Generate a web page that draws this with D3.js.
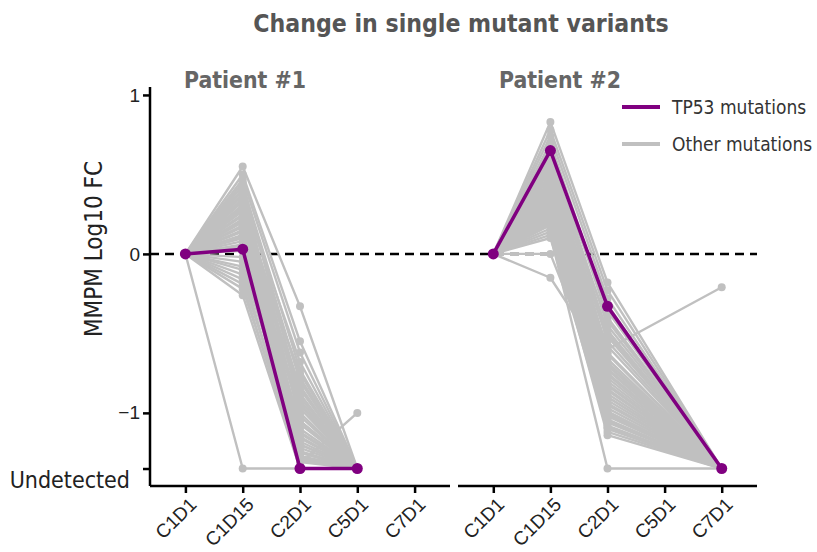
<!DOCTYPE html>
<html>
<head>
<meta charset="utf-8">
<script src="https://cdn.jsdelivr.net/npm/d3@7"></script>
<style>
  html, body { margin: 0; padding: 0; background: #fff; }
  svg { display: block; }
</style>
</head>
<body>
<svg id="chart" width="817" height="552"></svg>
<script>
// Sampling time points (cycle / day)
const stages = ["C1D1", "C1D15", "C2D1", "C5D1", "C7D1"];
const patients = ["Patient #1", "Patient #2"];

// Level used for variants that fell below detection
const U = -1.35;
const yTickValues = [1, 0, -1, U];

// Log10 fold change of mutant molecules per mL plasma, one row per variant.
// Columns follow `stages`; null = not sampled.
const p1TP53 = [0, 0.03, U, U, null];
const p1Other = [
  [0, 0.55, -0.33, U, null],
  [0, 0.50, -0.55, U, null],
  [0, 0.47, -0.62, U, null],
  [0, 0.45, -0.90, U, null],
  [0, 0.43, -0.73, U, null],
  [0, 0.41, -1.05, U, null],
  [0, 0.40, -0.80, U, null],
  [0, 0.38, -1.15, U, null],
  [0, 0.37, -0.95, U, null],
  [0, 0.35, -0.68, U, null],
  [0, 0.34, -1.20, U, null],
  [0, 0.33, -0.85, U, null],
  [0, 0.31, -1.00, U, null],
  [0, 0.30, -1.25, U, null],
  [0, 0.29, -0.78, U, null],
  [0, 0.28, -1.10, U, null],
  [0, 0.27, -0.92, U, null],
  [0, 0.25, -1.30, U, null],
  [0, 0.24, -0.88, U, null],
  [0, 0.22, -1.18, U, null],
  [0, 0.21, -1.02, U, null],
  [0, 0.20, -0.75, U, null],
  [0, 0.18, -1.22, U, null],
  [0, 0.17, -0.97, U, null],
  [0, 0.15, -1.12, U, null],
  [0, 0.14, -1.28, U, null],
  [0, 0.12, -0.83, U, null],
  [0, 0.11, -1.07, U, null],
  [0, 0.10, -1.32, -1.00, null],
  [0, 0.08, -1.16, U, null],
  [0, 0.06, -0.94, U, null],
  [0, 0.05, -1.24, U, null],
  [0, 0.03, -1.05, U, null],
  [0, 0.02, -1.30, U, null],
  [0, -0.02, -1.13, U, null],
  [0, -0.05, -1.27, U, null],
  [0, -0.08, -1.20, U, null],
  [0, -0.10, U, U, null],
  [0, -0.13, -1.31, U, null],
  [0, -0.16, -1.25, U, null],
  [0, -0.19, U, U, null],
  [0, -0.22, -1.29, U, null],
  [0, -0.26, U, U, null],
  [0, U, U, U, null]
];

const p2TP53 = [0, 0.65, -0.33, null, U];
const p2Other = [
  [0, 0.83, -0.18, null, U],
  [0, 0.78, -0.23, null, U],
  [0, 0.74, -0.28, null, U],
  [0, 0.70, -0.36, null, U],
  [0, 0.68, -0.40, null, U],
  [0, 0.62, -0.45, null, U],
  [0, 0.60, -0.50, null, U],
  [0, 0.58, -0.55, null, U],
  [0, 0.55, -0.60, null, -0.21],
  [0, 0.53, -0.63, null, U],
  [0, 0.51, -0.66, null, U],
  [0, 0.49, -0.70, null, U],
  [0, 0.47, -0.72, null, U],
  [0, 0.45, -0.75, null, U],
  [0, 0.43, -0.78, null, U],
  [0, 0.42, -0.80, null, U],
  [0, 0.40, -0.83, null, U],
  [0, 0.38, -0.85, null, U],
  [0, 0.37, -0.88, null, U],
  [0, 0.35, -0.90, null, U],
  [0, 0.34, -0.92, null, U],
  [0, 0.32, -0.95, null, U],
  [0, 0.30, -0.97, null, U],
  [0, 0.29, -1.00, null, U],
  [0, 0.27, -1.02, null, U],
  [0, 0.26, -1.04, null, U],
  [0, 0.24, -1.06, null, U],
  [0, 0.22, -1.08, null, U],
  [0, 0.20, -1.10, null, U],
  [0, 0.18, -1.12, null, U],
  [0, 0.16, -1.14, null, U],
  [0, 0.50, -0.42, null, U],
  [0, 0.44, -0.52, null, U],
  [0, 0.39, -0.68, null, U],
  [0, 0.33, -0.58, null, U],
  [0, 0.28, -0.76, null, U],
  [0, 0.23, -0.86, null, U],
  [0, 0.19, -0.99, null, U],
  [0, 0.14, -1.05, null, U],
  [0, 0.12, U, null, U],
  [0, 0.57, -0.32, null, U],
  [0, 0.46, -0.48, null, U],
  [0, 0.41, -0.62, null, U],
  [0, 0.36, -0.73, null, U],
  [0, 0.31, -0.82, null, U],
  [0, 0.25, -0.94, null, U],
  [0, 0.21, -1.01, null, U],
  [0, 0.10, -1.09, null, U],
  [0, 0.00, -0.90, null, U],
  [0, -0.15, -0.70, null, U]
];

const tp53Color = "#800080";
const otherColor = "#c0c0c0";
const textFont = "'DejaVu Sans Condensed', 'DejaVu Sans', sans-serif";
const tickFont = "'Liberation Sans', Arial, sans-serif";

const svg = d3.select("#chart");

// Shared vertical scale
const y = d3.scaleLinear().domain([-1.46, 1.05]).range([486, 87]);

// One point scale per patient panel
const panelRanges = [[150, 450], [458, 757]];
const xs = panelRanges.map(r => d3.scalePoint().domain(stages).range(r).padding(0.618));

// Title
svg.append("text")
  .attr("x", 461).attr("y", 32)
  .attr("text-anchor", "middle")
  .attr("font-family", textFont)
  .attr("font-weight", "bold")
  .attr("font-size", 24.6)
  .attr("fill", "#555")
  .text("Change in single mutant variants");

// Panel headings
[[245, patients[0]], [560, patients[1]]].forEach(([cx, label]) => {
  svg.append("text")
    .attr("x", cx).attr("y", 88)
    .attr("text-anchor", "middle")
    .attr("font-family", textFont)
    .attr("font-weight", "bold")
    .attr("font-size", 22.8)
    .attr("fill", "#666")
    .text(label);
});

// Y axis title
svg.append("text")
  .attr("transform", "translate(102,249) rotate(-90)")
  .attr("text-anchor", "middle")
  .attr("font-family", textFont)
  .attr("font-size", 24)
  .attr("fill", "#222")
  .text("MMPM Log10 FC");

// Zero reference line across both panels
svg.append("line")
  .attr("x1", 150).attr("x2", 757)
  .attr("y1", y(0)).attr("y2", y(0))
  .attr("stroke", "#000")
  .attr("stroke-width", 2.5)
  .attr("stroke-dasharray", "9,6");

const panels = [
  { x: xs[0], tp53: p1TP53, other: p1Other },
  { x: xs[1], tp53: p2TP53, other: p2Other }
];

function pts(row, x) {
  return row.map((v, i) => ({ s: stages[i], v })).filter(d => d.v !== null)
    .map(d => [x(d.s), y(d.v)]);
}

panels.forEach(p => {
  const g = svg.append("g");
  const line = d3.line();
  // Other variants underneath
  p.other.forEach(row => {
    const P = pts(row, p.x);
    g.append("path").attr("d", line(P))
      .attr("fill", "none").attr("stroke", otherColor).attr("stroke-width", 2.4)
      .attr("stroke-linejoin", "round");
  });
  p.other.forEach(row => {
    pts(row, p.x).forEach(([cx, cy]) => {
      g.append("circle").attr("cx", cx).attr("cy", cy).attr("r", 4).attr("fill", otherColor);
    });
  });
  // TP53 variant on top
  const T = pts(p.tp53, p.x);
  g.append("path").attr("d", line(T))
    .attr("fill", "none").attr("stroke", tp53Color).attr("stroke-width", 3.5)
    .attr("stroke-linejoin", "round");
  T.forEach(([cx, cy]) => {
    g.append("circle").attr("cx", cx).attr("cy", cy).attr("r", 5.5).attr("fill", tp53Color);
  });
});

// Y axis
const yAxis = d3.axisLeft(y).tickValues(yTickValues).tickSize(7).tickPadding(3)
  .tickFormat(d => d === U ? "" : d3.format("d")(d));
const yg = svg.append("g").attr("transform", "translate(150,0)").call(yAxis);
yg.select(".domain").attr("d", `M0,${y.range()[1]}V${y.range()[0]}`);
yg.selectAll("path, line").attr("stroke", "#000").attr("stroke-width", 2.5);
yg.selectAll("text")
  .attr("font-family", tickFont)
  .attr("font-size", 19).attr("fill", "#222");

svg.append("text")
  .attr("x", 130).attr("y", 488)
  .attr("text-anchor", "end")
  .attr("font-family", textFont)
  .attr("font-size", 23)
  .attr("fill", "#222")
  .text("Undetected");

// X axes, one per panel
xs.forEach((x, i) => {
  const ax = d3.axisBottom(x).tickSize(7).tickSizeOuter(0).tickPadding(4);
  const g = svg.append("g").attr("transform", "translate(0,486)").call(ax);
  g.select(".domain").attr("d", `M${panelRanges[i][0]},0H${panelRanges[i][1]}`);
  g.selectAll("path, line").attr("stroke", "#000").attr("stroke-width", 2.5);
  g.selectAll("text")
    .attr("font-family", tickFont)
    .attr("font-size", 19).attr("fill", "#222")
    .attr("text-anchor", "end")
    .attr("dy", "0.35em")
    .attr("transform", "translate(7,15) rotate(-45)")
    .attr("y", 0);
});

// Legend
const legend = [
  { label: "TP53 mutations", color: tp53Color, yy: 107 },
  { label: "Other mutations", color: otherColor, yy: 144 }
];
legend.forEach(l => {
  svg.append("line")
    .attr("x1", 622).attr("x2", 660).attr("y1", l.yy).attr("y2", l.yy)
    .attr("stroke", l.color).attr("stroke-width", 4);
  svg.append("text")
    .attr("x", 672).attr("y", l.yy).attr("dy", "0.35em")
    .attr("font-family", textFont)
    .attr("font-size", 19).attr("fill", "#333")
    .text(l.label);
});
</script>
</body>
</html>
